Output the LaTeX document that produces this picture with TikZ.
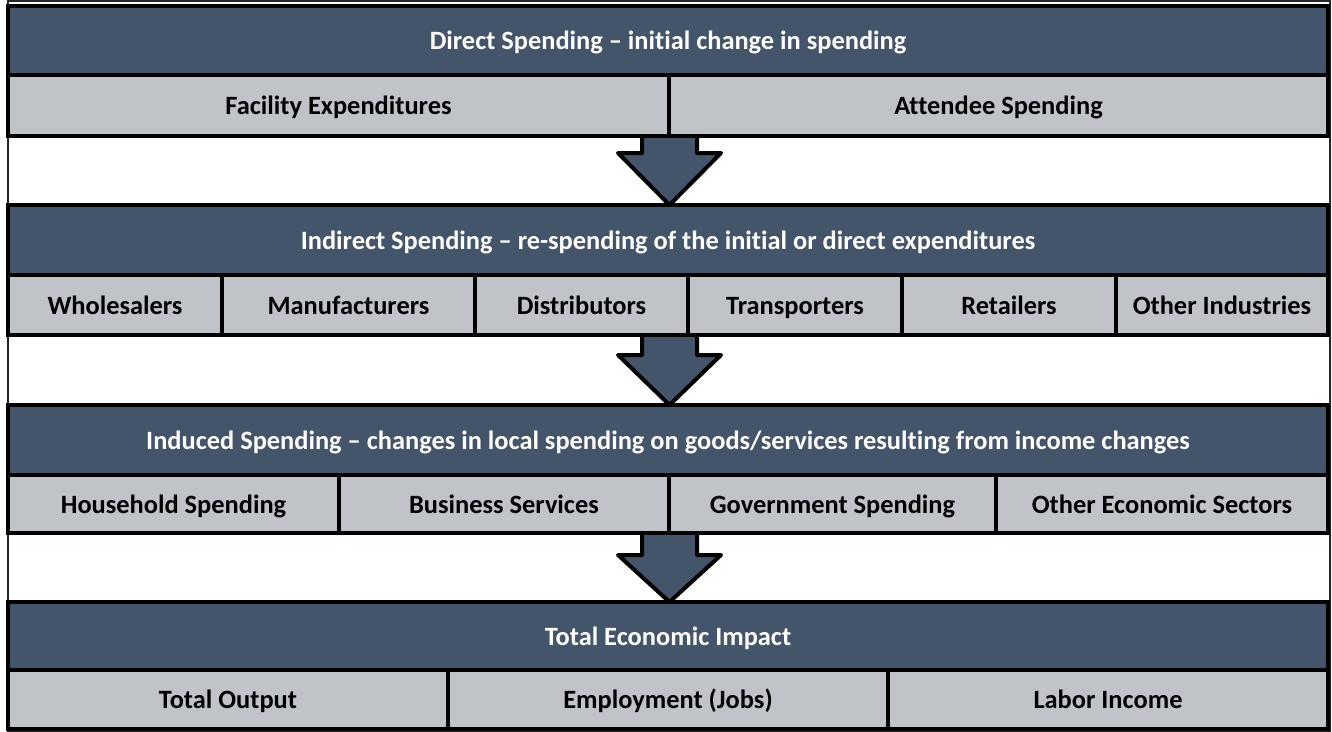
\documentclass[tikz,border=0pt]{standalone}
\usepackage{fontspec}
\setmainfont{Carlito}[Ligatures=NoCommon]
\usetikzlibrary{fit}
\definecolor{darkband}{HTML}{44546A}
\definecolor{lightband}{RGB}{192,195,200}
\tikzset{
  cell/.style={draw=black, line width=3pt, inner sep=0pt, outer sep=0pt},
  head/.style={cell, fill=darkband},
  sub/.style={cell, fill=lightband},
  txt/.style={inner sep=0pt, anchor=center, text height=0.644em, text depth=0pt,
    yshift=-3.8pt, font=\fontsize{19.8}{23}\selectfont\bfseries},
  htxt/.style={txt, text=white},
  stxt/.style={txt, text=black},
  bigarrow/.style={draw=black, fill=darkband, line width=3pt, line join=round},
  outerframe/.style={draw=black!85, line width=0.8pt}
}
\begin{document}
\begin{tikzpicture}[x=0.75pt,y=-0.75pt]
\useasboundingbox (0,0) rectangle (1332,732);
% outer thin frame
\draw[outerframe] (8,1) rectangle (1330,731);
% arrows
\draw[bigarrow] (642,136) -- (642,153) -- (618,153) -- (669.5,205) -- (721,153) -- (697,153) -- (697,136);
\draw[bigarrow] (642,335) -- (642,355) -- (618,355) -- (669.5,405) -- (721,355) -- (697,355) -- (697,335);
\draw[bigarrow] (642,533) -- (642,555) -- (618,555) -- (669.5,602) -- (721,555) -- (697,555) -- (697,533);
% band 1
\node[head, fit={(8,6)(1328,75)}] (h1) {};
\node[sub, fit={(8,75)(669,136)}] (s11) {};
\node[sub, fit={(669,75)(1328,136)}] (s12) {};
\node[htxt] (t1) at (h1.center) {Direct Spending – initial change in spending};
\node[stxt] (t11) at (s11.center) {Facility Expenditures};
\node[stxt] (t12) at (s12.center) {Attendee Spending};
% band 2
\node[head, fit={(8,205)(1328,275)}] (h2) {};
\node[sub, fit={(8,275)(222,335)}] (s21) {};
\node[sub, fit={(222,275)(475,335)}] (s22) {};
\node[sub, fit={(475,275)(688,335)}] (s23) {};
\node[sub, fit={(688,275)(902,335)}] (s24) {};
\node[sub, fit={(902,275)(1116,335)}] (s25) {};
\node[sub, fit={(1116,275)(1328,335)}] (s26) {};
\node[htxt] (t2) at (h2.center) {Indirect Spending – re-spending of the initial or direct expenditures};
\node[stxt] (t21) at (s21.center) {Wholesalers};
\node[stxt] (t22) at (s22.center) {Manufacturers};
\node[stxt] (t23) at (s23.center) {Distributors};
\node[stxt] (t24) at (s24.center) {Transporters};
\node[stxt] (t25) at (s25.center) {Retailers};
\node[stxt] (t26) at (s26.center) {Other Industries};
% band 3
\node[head, fit={(8,405)(1328,475)}] (h3) {};
\node[sub, fit={(8,475)(339,533)}] (s31) {};
\node[sub, fit={(339,475)(669,533)}] (s32) {};
\node[sub, fit={(669,475)(996,533)}] (s33) {};
\node[sub, fit={(996,475)(1328,533)}] (s34) {};
\node[htxt] (t3) at (h3.center) {Induced Spending – changes in local spending on goods/services resulting from income changes};
\node[stxt] (t31) at (s31.center) {Household Spending};
\node[stxt] (t32) at (s32.center) {Business Services};
\node[stxt] (t33) at (s33.center) {Government Spending};
\node[stxt] (t34) at (s34.center) {Other Economic Sectors};
% band 4
\node[head, fit={(8,602)(1328,670)}] (h4) {};
\node[sub, fit={(8,670)(448,729)}] (s41) {};
\node[sub, fit={(448,670)(888,729)}] (s42) {};
\node[sub, fit={(888,670)(1328,729)}] (s43) {};
\node[htxt] (t4) at (h4.center) {Total Economic Impact};
\node[stxt] (t41) at (s41.center) {Total Output};
\node[stxt] (t42) at (s42.center) {Employment (Jobs)};
\node[stxt] (t43) at (s43.center) {Labor Income};
\end{tikzpicture}
\end{document}
